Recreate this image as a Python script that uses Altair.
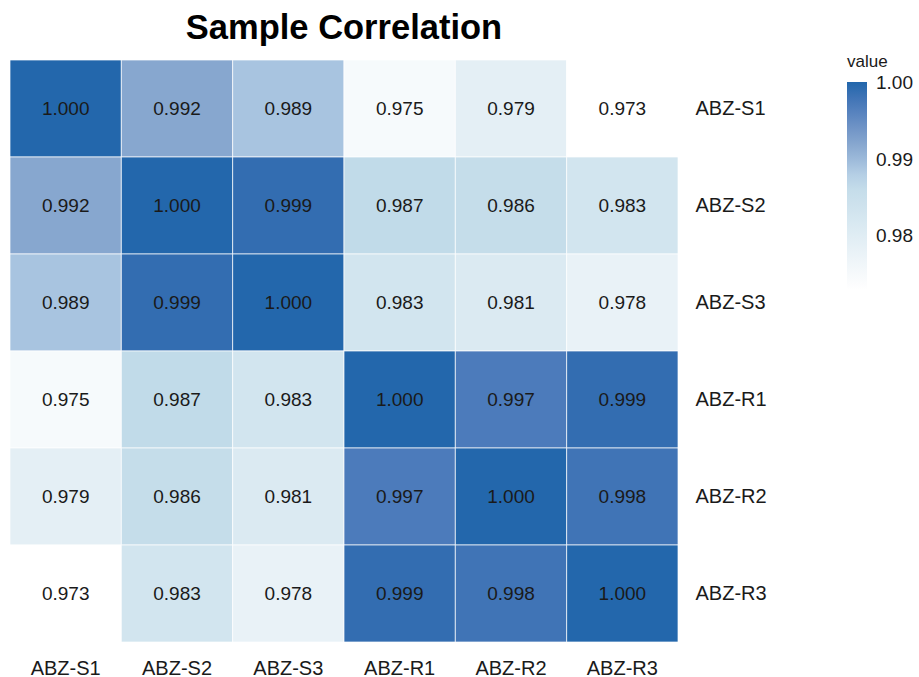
import altair as alt
import pandas as pd

# Sample names, in display order (columns left to right, rows top to bottom)
samples = ["ABZ-S1", "ABZ-S2", "ABZ-S3", "ABZ-R1", "ABZ-R2", "ABZ-R3"]

# Pairwise Pearson correlations, one list per row sample
corr_s1 = [1.000, 0.992, 0.989, 0.975, 0.979, 0.973]
corr_s2 = [0.992, 1.000, 0.999, 0.987, 0.986, 0.983]
corr_s3 = [0.989, 0.999, 1.000, 0.983, 0.981, 0.978]
corr_r1 = [0.975, 0.987, 0.983, 1.000, 0.997, 0.999]
corr_r2 = [0.979, 0.986, 0.981, 0.997, 1.000, 0.998]
corr_r3 = [0.973, 0.983, 0.978, 0.999, 0.998, 1.000]
matrix = [corr_s1, corr_s2, corr_s3, corr_r1, corr_r2, corr_r3]

# Colour ramp stops (white -> pale blue -> dark blue); the top stop sits a hair
# above 1 so the "1.00" legend label is centred on the end of the bar
color_domain = [0.973, 0.983, 0.987, 0.989, 0.992, 0.997, 1.0001]
color_range = ["#ffffff", "#d2e5ef", "#c1dbe9", "#a8c4e0", "#87a7cf", "#4c7bbb", "#2166ac"]
legend_values = [0.98, 0.99, 1.00]

rows = []
for row_name, values in zip(samples, matrix):
    for col_name, v in zip(samples, values):
        rows.append({"row": row_name, "col": col_name, "value": v})
df = pd.DataFrame(rows)

FONT = "Liberation Sans"

x_enc = alt.X(
    "col:N",
    sort=samples,
    title=None,
    axis=alt.Axis(orient="bottom", labelAngle=0, labelPadding=16),
    scale=alt.Scale(paddingInner=0, paddingOuter=0),
)
y_enc = alt.Y(
    "row:N",
    sort=samples,
    title=None,
    axis=alt.Axis(orient="right", labelPadding=17, labelAlign="left"),
    scale=alt.Scale(paddingInner=0, paddingOuter=0),
)

tiles = alt.Chart(df).mark_rect(
    stroke="white", strokeWidth=1, strokeOpacity=0.7
).encode(
    x=x_enc,
    y=y_enc,
    color=alt.Color(
        "value:Q",
        scale=alt.Scale(domain=color_domain, range=color_range, interpolate="lab"),
        legend=alt.Legend(
            title="value",
            orient="none",
            legendX=837,
            legendY=-6,
            values=legend_values,
            format=".2f",
            gradientLength=208,
            gradientThickness=20,
            gradientStrokeWidth=0,
            titleFontSize=17,
            titleFontWeight="normal",
            titleColor="#1a1a1a",
            titlePadding=11,
            labelFontSize=19,
            labelColor="#1a1a1a",
            labelOffset=9,
        ),
    ),
)

labels = alt.Chart(df).mark_text(
    font=FONT, fontSize=19, color="#1a1a1a"
).encode(
    x=x_enc,
    y=y_enc,
    text=alt.Text("value:Q", format=".3f"),
)

chart = (
    alt.layer(tiles, labels)
    .properties(
        width=668,
        height=582,
        padding={"left": 10, "top": 60, "right": 241, "bottom": 35},
        autosize=alt.AutoSizeParams(type="none"),
        background="white",
        title=alt.TitleParams(
            "Sample Correlation",
            fontSize=34.5,
            fontWeight="bold",
            font=FONT,
            color="#000000",
            anchor="middle",
            frame="group",
            offset=8,
        ),
    )
    .configure_view(stroke=None)
    .configure_axis(
        domain=False,
        ticks=False,
        grid=False,
        labelFont=FONT,
        labelFontSize=20,
        labelColor="#1a1a1a",
    )
    .configure_legend(labelFont=FONT, titleFont=FONT)
)

chart.save("out.html", embed_options={"renderer": "svg", "actions": False})
